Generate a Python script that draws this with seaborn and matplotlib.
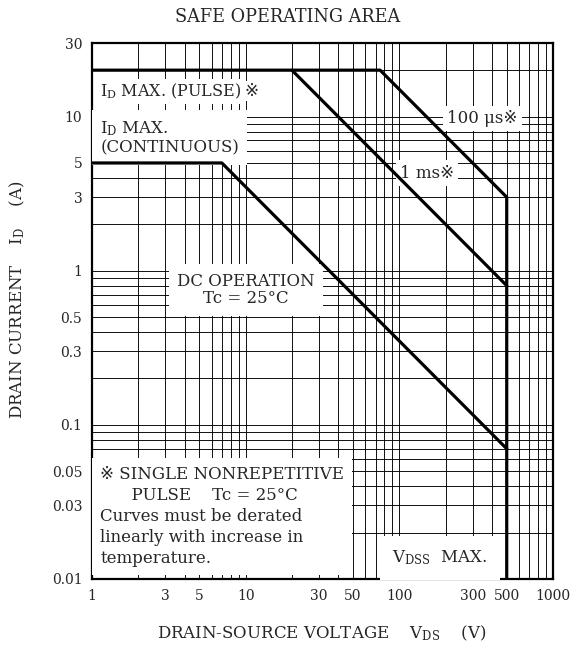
import numpy as np
import pandas as pd
import matplotlib
matplotlib.use('Agg')
import matplotlib.pyplot as plt
import seaborn as sns
from matplotlib.ticker import FixedLocator, FixedFormatter, LogLocator, NullFormatter

# ---- data ----
curve_100us_v = [1, 75, 500, 500]
curve_100us_i = [20, 20, 3, 0.01]
curve_1ms_v = [20, 500]
curve_1ms_i = [20, 0.8]
curve_dc_v = [1, 7, 500]
curve_dc_i = [5, 5, 0.07]

x_ticks = [1, 3, 5, 10, 30, 50, 100, 300, 500, 1000]
x_tick_labels = ['1', '3', '5', '10', '30', '50', '100', '300', '500', '1000']
y_ticks = [0.01, 0.03, 0.05, 0.1, 0.3, 0.5, 1, 3, 5, 10, 30]
y_tick_labels = ['0.01', '0.03', '0.05', '0.1', '0.3', '0.5', '1', '3', '5', '10', '30']

sns.set_style('white')
plt.rcParams['font.family'] = ['DejaVu Serif', 'DejaVu Sans', 'Noto Sans CJK JP']
plt.rcParams['mathtext.fontset'] = 'dejavuserif'

fig = plt.figure(figsize=(5.75, 6.48), dpi=100)
ax = fig.add_axes([0.160, 0.1065, 0.8017, 0.8271])

frames = []
for name, v, i in [('100us', curve_100us_v, curve_100us_i),
                   ('1ms', curve_1ms_v, curve_1ms_i),
                   ('dc', curve_dc_v, curve_dc_i)]:
    frames.append(pd.DataFrame({'V': v, 'I': i, 'curve': name}))
df = pd.concat(frames, ignore_index=True)

sns.lineplot(data=df, x='V', y='I', units='curve', estimator=None, sort=False,
             color='black', lw=2.3, ax=ax, legend=False, zorder=4)

ax.set_xscale('log')
ax.set_yscale('log')
ax.set_xlim(1, 1000)
ax.set_ylim(0.01, 30)

ax.xaxis.set_major_locator(FixedLocator(x_ticks))
ax.xaxis.set_major_formatter(FixedFormatter(x_tick_labels))
ax.yaxis.set_major_locator(FixedLocator(y_ticks))
ax.yaxis.set_major_formatter(FixedFormatter(y_tick_labels))
ax.xaxis.set_minor_locator(LogLocator(base=10, subs=np.arange(1, 10)))
ax.yaxis.set_minor_locator(LogLocator(base=10, subs=np.arange(1, 10)))
ax.xaxis.set_minor_formatter(NullFormatter())
ax.yaxis.set_minor_formatter(NullFormatter())
ax.grid(which='both', color='black', lw=0.65, zorder=1)
ax.tick_params(which='both', length=0, labelsize=10, pad=7)
for s in ax.spines.values():
    s.set_color('black')
    s.set_linewidth(1.6)
ax.set_axisbelow(True)
ax.set_xlabel('')
ax.set_ylabel('')

def wbox(pad):
    return dict(facecolor='white', edgecolor='none', pad=pad)

fs = 12
t_pulse = ax.text(1.13, 14.6, 'I$_\\mathrm{D}$ MAX. (PULSE)', fontsize=11.5, va='center', ha='left',
                  bbox=wbox(2), zorder=3)
ax.annotate('※', xy=(1, 0.5), xycoords=t_pulse, xytext=(2, 0), textcoords='offset points',
            fontsize=fs, va='center', ha='left', bbox=wbox(1), zorder=3)
ax.text(1.13, 7.3, 'I$_\\mathrm{D}$ MAX.\n(CONTINUOUS)', fontsize=fs, va='center', ha='left',
        bbox=wbox(6), zorder=3, linespacing=1.15)
ax.text(10, 0.75, 'DC OPERATION\nTc = 25°C', fontsize=fs, va='center', ha='center',
        bbox=wbox(6), zorder=3, linespacing=1.05)
ax.text(205, 9.7, '100 μs※', fontsize=fs, va='center', ha='left', bbox=wbox(3), zorder=3)
ax.text(101, 4.3, '1 ms※', fontsize=fs, va='center', ha='left', bbox=wbox(3), zorder=3)
ax.text(1.13, 0.0255, '※ SINGLE NONREPETITIVE\n      PULSE    Tc = 25°C\nCurves must be derated\nlinearly with increase in\ntemperature.',
        fontsize=fs, va='center', ha='left', bbox=wbox(6), zorder=3, linespacing=1.3)
ax.text(90, 0.0137, 'V$_\\mathrm{DSS}$  MAX.', fontsize=fs, va='center', ha='left',
        bbox=wbox(9), zorder=3)

fig.text(0.5, 1 - 17 / 648, 'SAFE OPERATING AREA', ha='center', va='center', fontsize=12.7)
fig.text(322 / 575, 1 - 633 / 648, 'DRAIN-SOURCE VOLTAGE    V$_\\mathrm{DS}$    (V)',
         ha='center', va='center', fontsize=12)
fig.text(17 / 575, 1 - 300 / 648, 'DRAIN CURRENT    I$_\\mathrm{D}$    (A)',
         ha='center', va='center', fontsize=12, rotation=90)

fig.savefig('out.png', dpi=100)
